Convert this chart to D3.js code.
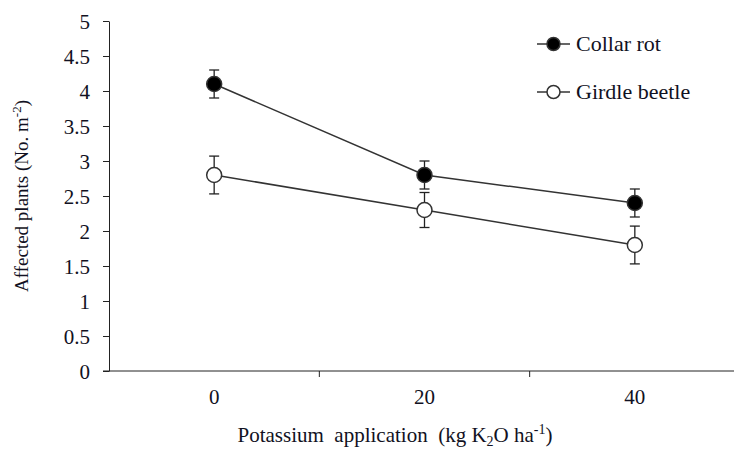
<!DOCTYPE html>
<meta charset="utf-8">
<style>
  body { margin: 0; background: #fff; }
  text { font-family: "Liberation Serif", "Times New Roman", serif; fill: #111122; }
  .axis text { font-size: 21px; }
  .axis path, .axis line { stroke: #222; }
</style>
<body>
<script src="https://d3js.org/d3.v7.min.js"></script>
<script>

var rates = ["0", "20", "40"];
var collarRot = [4.1, 2.8, 2.4];
var collarErr = [0.2, 0.2, 0.2];
var girdleBeetle = [2.8, 2.3, 1.8];
var girdleErr = [0.27, 0.25, 0.27];
var yTicks = [0, 0.5, 1, 1.5, 2, 2.5, 3, 3.5, 4, 4.5, 5];

var width = 734, height = 449;
var margin = {top: 21, right: 0, bottom: 78, left: 109};

var svg = d3.select("body").append("svg")
  .attr("width", width)
  .attr("height", height);

var x = d3.scaleBand().domain(rates).range([margin.left, 740]);
var y = d3.scaleLinear().domain([0, 5]).range([height - margin.bottom, margin.top]);

// y axis
svg.append("g")
  .attr("class", "axis")
  .attr("transform", "translate(" + margin.left + ",0)")
  .call(d3.axisLeft(y).tickValues(yTicks).tickFormat(d3.format("")).tickSize(6).tickSizeOuter(0).tickPadding(13))
  .call(g => g.attr("font-family", null))
  .call(g => g.selectAll("text").attr("dy", "0.36em"));

// x axis: ticks sit between categories
var xg = svg.append("g")
  .attr("class", "axis")
  .attr("transform", "translate(0," + y(0) + ")");
xg.append("line")
  .attr("x1", margin.left - 6).attr("x2", 740)
  .attr("stroke", "#222");
[rates[1], rates[2]].forEach(function (r) {
  xg.append("line")
    .attr("x1", x(r)).attr("x2", x(r))
    .attr("y1", 0).attr("y2", 6)
    .attr("stroke", "#222");
});
xg.selectAll(".lab")
  .data(rates)
  .enter().append("text")
    .attr("x", d => x(d) + x.bandwidth() / 2)
    .attr("y", 33)
    .attr("text-anchor", "middle")
    .text(d => d);

// axis titles
var yt = svg.append("text")
  .attr("transform", "translate(28," + ((y(0) + y(5)) / 2) + ") rotate(-90)")
  .attr("text-anchor", "middle")
  .style("font-size", "19px");
yt.append("tspan").text("Affected  plants (No. m");
yt.append("tspan").attr("dy", "-7").style("font-size", "13px").text("-2");
yt.append("tspan").attr("dy", "7").text(")");

var xt = svg.append("text")
  .attr("x", 395).attr("y", 442)
  .attr("text-anchor", "middle")
  .style("font-size", "21px")
  .attr("xml:space", "preserve");
xt.append("tspan").text("Potassium  application  (kg K");
xt.append("tspan").attr("dy", "4").style("font-size", "14px").text("2");
xt.append("tspan").attr("dy", "-4").text("O ha");
xt.append("tspan").attr("dy", "-8").style("font-size", "14px").text("-1");
xt.append("tspan").attr("dy", "8").text(")");

var series = [
  {name: "Collar rot", values: collarRot, err: collarErr, fill: "#000"},
  {name: "Girdle beetle", values: girdleBeetle, err: girdleErr, fill: "#fff"}
];

var cx = d => x(d) + x.bandwidth() / 2;
var line = d3.line().x(d => cx(d.r)).y(d => y(d.v));

series.forEach(function (s) {
  var pts = rates.map((r, i) => ({r: r, v: s.values[i], e: s.err[i]}));
  svg.append("path")
    .datum(pts)
    .attr("d", line)
    .attr("fill", "none")
    .attr("stroke", "#333")
    .attr("stroke-width", 1.5);

  var eb = svg.append("g").selectAll("g").data(pts).enter().append("g");
  eb.append("line")
    .attr("x1", d => cx(d.r)).attr("x2", d => cx(d.r))
    .attr("y1", d => y(d.v + d.e)).attr("y2", d => y(d.v - d.e))
    .attr("stroke", "#222").attr("stroke-width", 1.3);
  [1, -1].forEach(function (sgn) {
    eb.append("line")
      .attr("x1", d => cx(d.r) - 5).attr("x2", d => cx(d.r) + 5)
      .attr("y1", d => y(d.v + sgn * d.e)).attr("y2", d => y(d.v + sgn * d.e))
      .attr("stroke", "#222").attr("stroke-width", 1.3);
  });

  svg.append("g").selectAll("circle").data(pts).enter().append("circle")
    .attr("cx", d => cx(d.r))
    .attr("cy", d => y(d.v))
    .attr("r", 7.5)
    .attr("fill", s.fill)
    .attr("stroke", "#333")
    .attr("stroke-width", 1.5);
});

// legend
var leg = svg.append("g").selectAll("g").data(series).enter().append("g")
  .attr("transform", (d, i) => "translate(537," + (44 + i * 48) + ")");
leg.append("line")
  .attr("x1", 0).attr("x2", 33)
  .attr("stroke", "#333").attr("stroke-width", 1.5);
leg.append("circle")
  .attr("cx", 16.5).attr("r", 6.5)
  .attr("fill", d => d.fill)
  .attr("stroke", "#333").attr("stroke-width", 1.5);
leg.append("text")
  .attr("x", 39).attr("y", 7)
  .style("font-size", "22px")
  .text(d => d.name);

</script>
</body>
